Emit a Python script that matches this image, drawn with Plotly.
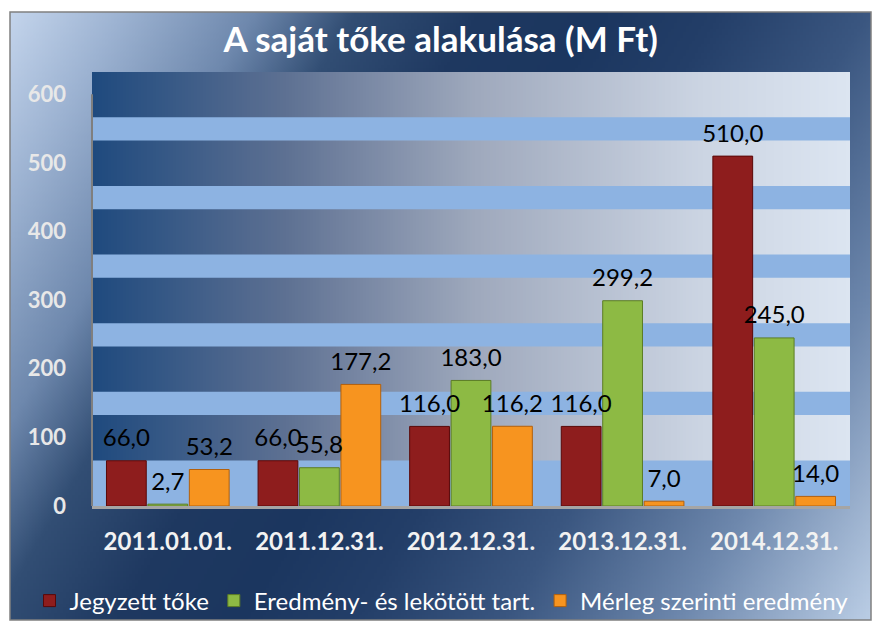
import base64
import struct
import zlib

import plotly.graph_objects as go

# ---------------- data ----------------
categories = ["2011.01.01.", "2011.12.31.", "2012.12.31.", "2013.12.31.", "2014.12.31."]
jegyzett_toke = [66.0, 66.0, 116.0, 116.0, 510.0]
eredmeny_lekotott = [2.7, 55.8, 183.0, 299.2, 245.0]
merleg_eredmeny = [53.2, 177.2, 116.2, 7.0, 14.0]
series_names = ["Jegyzett tőke", "Eredmény- és lekötött tart.", "Mérleg szerinti eredmény"]
y_ticks = [0, 100, 200, 300, 400, 500, 600]
title_text = "A saját tőke alakulása (M Ft)"

# ---------------- style ----------------
FONT = "Lato"
W, H = 878, 628
ML, MR, MT, MB = 92, 28, 72, 122
PW, PH = W - ML - MR, H - MT - MB
Y_MAX = 632.6
bar_fill = ["#8e1d1d", "#8dba44", "#f7941f"]
bar_line = ["#5a0808", "#5c7d25", "#b3600c"]


def lerp_stops(stops, s):
    if s <= stops[0][0]:
        return stops[0][1]
    for (s0, c0), (s1, c1) in zip(stops, stops[1:]):
        if s <= s1:
            f = (s - s0) / (s1 - s0)
            return tuple(int(round(a + (b - a) * f)) for a, b in zip(c0, c1))
    return stops[-1][1]


def png_uri(w, h, fn):
    raw = bytearray()
    for j in range(h):
        raw.append(0)
        for i in range(w):
            raw += bytes(fn(i, j))

    def chunk(t, d):
        return struct.pack(">I", len(d)) + t + d + struct.pack(">I", zlib.crc32(t + d) & 0xFFFFFFFF)

    png = (b"\x89PNG\r\n\x1a\n" + chunk(b"IHDR", struct.pack(">IIBBBBB", w, h, 8, 2, 0, 0, 0))
           + chunk(b"IDAT", zlib.compress(bytes(raw), 9)) + chunk(b"IEND", b""))
    return "data:image/png;base64," + base64.b64encode(png).decode()


# outer chart background (diagonal gradient)
BX0, BY0, BX1, BY1 = 10, 12, 871, 620
bg_stops = [
    (0, (202, 218, 240)), (111, (157, 179, 210)), (225, (110, 136, 173)),
    (310, (50, 78, 116)), (420, (30, 56, 96)), (522, (27, 54, 95)),
    (620, (35, 62, 104)), (750, (58, 86, 128)), (900, (110, 136, 173)),
    (1060, (185, 204, 228)), (1200, (200, 215, 235)),
]
SC = 3
bw, bh = (BX1 - BX0) // SC, (BY1 - BY0) // SC


def bg_px(i, j):
    x = BX0 + (i + 0.5) * SC
    y = BY0 + (j + 0.5) * SC
    return lerp_stops(bg_stops, 0.858 * x + 0.513 * y)


bg_uri = png_uri(bw, bh, bg_px)

# plot-area back wall (horizontal gradient)
wall_stops = [(0, (31, 74, 126)), (0.25, (93, 112, 146)), (0.5, (158, 168, 188)),
              (0.8, (203, 212, 226)), (1.0, (220, 229, 241))]
wall_uri = png_uri(256, 4, lambda i, j: lerp_stops(wall_stops, i / 255))

fig = go.Figure()
series = [jegyzett_toke, eredmeny_lekotott, merleg_eredmeny]
for k, (name, vals) in enumerate(zip(series_names, series)):
    fig.add_trace(go.Bar(
        x=categories, y=vals, name=name, offsetgroup=str(k),
        marker=dict(color=bar_fill[k], line=dict(color=bar_line[k], width=1)),
        hoverinfo="skip",
    ))
for k, vals in enumerate(series):
    fig.add_trace(go.Scatter(
        x=categories, y=vals, mode="markers+text", offsetgroup=str(k),
        marker=dict(size=12, color="rgba(0,0,0,0)"),
        texttemplate="%{y:.1f}", textposition="top center",
        textfont=dict(family=FONT, size=24, color="#000000"),
        showlegend=False, hoverinfo="skip", cliponaxis=False,
    ))

shapes = []
# light horizontal bands on the back wall
shapes.append(dict(type="rect", xref="paper", yref="y", x0=0, x1=1, y0=0, y1=66.5,
                   fillcolor="#8db3e2", line=dict(width=0), layer="below"))
for t in y_ticks[1:-1]:
    shapes.append(dict(type="rect", xref="paper", yref="y", x0=0, x1=1, y0=t + 32.6, y1=t + 66.5,
                       fillcolor="#8db3e2", line=dict(width=0), layer="below"))
# left wall line
shapes.append(dict(type="line", xref="paper", yref="y", x0=0, x1=0, y0=0, y1=y_ticks[-1],
                   line=dict(color="#7f7f7f", width=2)))
# outer border
shapes.append(dict(type="rect", xref="paper", yref="paper",
                   x0=(BX0 - ML) / PW, x1=(BX1 - ML) / PW,
                   y0=(H - MB - BY1) / PH, y1=(H - MB - BY0) / PH,
                   line=dict(color="#808080", width=1.5)))

images = [
    dict(source=bg_uri, xref="paper", yref="paper", x=(BX0 - ML) / PW, y=(H - MB - BY0) / PH,
         sizex=(BX1 - BX0) / PW, sizey=(BY1 - BY0) / PH, xanchor="left", yanchor="top",
         sizing="stretch", layer="below"),
    dict(source=wall_uri, xref="paper", yref="paper", x=0, y=1, sizex=1, sizey=1,
         xanchor="left", yanchor="top", sizing="stretch", layer="below"),
]

fig.update_layout(
    width=W, height=H,
    margin=dict(l=ML, r=MR, t=MT, b=MB, autoexpand=False),
    paper_bgcolor="#ffffff", plot_bgcolor="rgba(0,0,0,0)",
    separators=",.",
    barmode="group", bargap=0.18, bargroupgap=0.04,
    scattermode="group", scattergap=0.18,
    title=dict(text=title_text, x=0.502, xanchor="center", y=1 - 40 / H, yanchor="middle",
               font=dict(family=FONT, size=35, color="#ffffff", weight="bold")),
    xaxis=dict(showgrid=False, zeroline=False, showline=True, linecolor="#a5a5a5", linewidth=3,
               tickfont=dict(family=FONT, size=24, color="#f2f2f2", weight="bold"),
               ticklabelstandoff=12, fixedrange=True, automargin=False),
    yaxis=dict(range=[0, Y_MAX], showgrid=False, zeroline=False, showline=False,
               tickvals=y_ticks, ticktext=[str(v) for v in y_ticks],
               tickfont=dict(family=FONT, size=22, color="#e8e8e8", weight="bold"),
               ticklabelstandoff=25, fixedrange=True, automargin=False),
    legend=dict(orientation="h", x=(29.5 - ML) / PW, xanchor="left",
                y=(H - MB - 601) / PH, yanchor="middle",
                font=dict(family=FONT, size=24, color="#ffffff"),
                bgcolor="rgba(0,0,0,0)"),
    shapes=shapes, images=images,
    showlegend=True,
)

fig.write_html("out.html", config={"displayModeBar": False},
               post_script="document.body.style.margin='0';document.body.style.overflow='hidden';")
